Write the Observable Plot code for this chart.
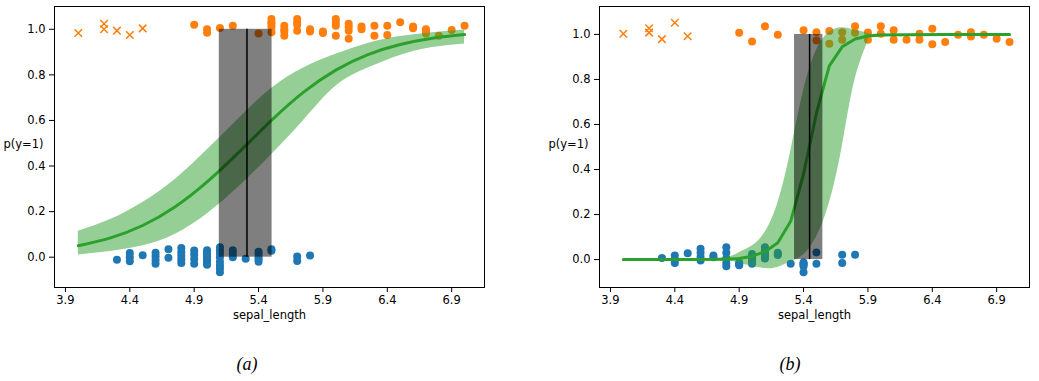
<!DOCTYPE html>
<html><head><meta charset="utf-8">
<script src="https://cdn.jsdelivr.net/npm/d3@7"></script>
<script src="https://cdn.jsdelivr.net/npm/@observablehq/plot@0.6"></script>
<style>
body{margin:0;background:#fff;}
#wrap{position:relative;width:1039px;height:381px;overflow:hidden;}
.panel{position:absolute;top:0;}
.cap{position:absolute;top:354px;font-family:"Liberation Serif",serif;font-style:italic;font-size:18px;transform:translateX(-50%);color:#000;}
</style>
</head><body>
<div id="wrap">
  <div class="panel" id="pa" style="left:0"></div>
  <div class="panel" id="pb" style="left:520px"></div>
  <div class="cap" style="left:247px">(a)</div>
  <div class="cap" style="left:790px">(b)</div>
</div>
<script>
const xTicks = [3.9, 4.4, 4.9, 5.4, 5.9, 6.4, 6.9];
const yTicks = [0, 0.2, 0.4, 0.6, 0.8, 1.0];

// added outliers (class 1, marked with x)
const outlierX  = [4.2, 4.5, 4.0, 4.3, 4.2, 4.4];
const outlierYA = [1.024, 1.004, 0.984, 0.994, 1.0, 0.975];
const outlierYB = [1.027, 0.992, 1.003, 0.979, 1.008, 1.052];

// panel (a) jittered observations
const blueXA = [4.3, 4.4,4.4,4.4, 4.5, 4.6,4.6,4.6,4.6, 4.7,4.7, 4.8,4.8,4.8,4.8,4.8, 4.9,4.9,4.9,4.9,
  5.0,5.0,5.0,5.0,5.0,5.0,5.0,5.0, 5.1,5.1,5.1,5.1,5.1,5.1,5.1,5.1, 5.2,5.2,5.2, 5.3, 5.4,5.4,5.4,5.4,5.4, 5.5,5.5, 5.7,5.7, 5.8];
const blueYA = [-0.011, 0.018,0.0,-0.018, 0.009, 0.019,0.004,-0.012,-0.029, 0.035,-0.003, 0.04,0.022,0.006,-0.01,-0.025, 0.029,0.012,-0.008,-0.029,
  0.03,0.018,0.004,-0.008,-0.015,-0.025,-0.033,0.011, 0.044,0.03,0.016,0.0,-0.02,-0.036,-0.05,-0.066, 0.03,0.016,0.0, -0.007, 0.024,0.014,0.0,-0.01,-0.02, 0.035,0.028, 0.003,-0.017, 0.007];
const orangeXA = [4.9, 5.0,5.0, 5.1, 5.2, 5.4, 5.5,5.5,5.5,5.5,5.5, 5.6,5.6,5.6,5.6, 5.7,5.7,5.7,5.7, 5.8,5.8, 5.9,5.9,
  6.0,6.0,6.0,6.0, 6.1,6.1,6.1,6.1, 6.2,6.2, 6.3,6.3, 6.4,6.4, 6.5, 6.6,6.6, 6.7,6.7,6.7, 6.8, 6.9, 7.0];
const orangeYA = [1.02, 1.0,0.985, 1.006, 1.015, 0.982, 1.045,1.024,0.987,1.01,1.03, 1.016,0.972,1.0,0.99, 1.045,1.02,0.994,1.03, 1.0,0.99, 0.984,0.99,
  1.045,1.016,0.972,1.03, 1.024,0.994,0.958,1.01, 1.012,1.0, 1.016,0.972, 1.016,0.975, 1.031, 1.012,1.005, 1.0,0.982,0.99, 0.972, 0.997, 1.016];

// panel (b) jittered observations
const blueXB = blueXA;
const blueYB = [0.007, 0.018,0.0,-0.015, 0.028, 0.048,0.03,0.012,-0.004, 0.018,0.01, 0.055,0.03,0.005,-0.015,-0.03, -0.014,-0.02,-0.025,-0.018,
  0.025,0.01,-0.005,-0.019,0.015,0.0,-0.01,0.005, 0.055,0.035,0.02,0.005,0.04,0.01,0.025,0.03, 0.025,0.02,0.03, -0.019, -0.02,-0.013,-0.056,-0.03,-0.02, 0.032,-0.019, 0.022,-0.015, 0.021];
const orangeXB = [4.9, 5.0, 5.1, 5.2, 5.4, 5.5,5.5, 5.6,5.6, 5.7,5.7, 5.8,5.8, 5.9,5.9, 6.0,6.0, 6.1,6.1, 6.2, 6.3,6.3, 6.4,6.4, 6.5, 6.6, 6.7,6.7, 6.8, 6.9, 7.0];
const orangeYB = [1.007, 0.969, 1.036, 0.999, 1.018, 1.010,0.973, 1.015,0.959, 1.010,0.976, 1.036,1.007, 1.008,0.976, 1.036,1.003, 1.018,0.976, 0.976, 1.003,0.976, 1.025,0.956, 0.966, 0.999, 1.010,0.991, 0.999, 0.981, 0.966];

// panel (a) mean curve and 94% band
const curveXA = [4.0, 4.25, 4.5, 4.75, 5.0, 5.25, 5.5, 5.75, 6.0, 6.25, 6.5, 6.75, 7.0];
const thetaA  = [0.050, 0.085, 0.139, 0.220, 0.330, 0.462, 0.600, 0.724, 0.821, 0.889, 0.933, 0.961, 0.977];
const loA     = [0.010, 0.025, 0.050, 0.100, 0.190, 0.310, 0.450, 0.600, 0.750, 0.830, 0.885, 0.920, 0.936];
const hiA     = [0.114, 0.165, 0.240, 0.340, 0.470, 0.610, 0.740, 0.830, 0.890, 0.938, 0.968, 0.985, 0.997];
const bdA = 5.31, bdLoA = 5.095, bdHiA = 5.505;

// panel (b) mean curve and band
const curveXB = [4.0, 4.3, 4.5, 4.8, 4.9, 5.0, 5.1, 5.2, 5.3, 5.4, 5.5, 5.6, 5.7, 5.8, 5.9, 6.0, 6.5, 7.0];
const thetaB  = [0.0, 0.0, 0.0, 0.002, 0.005, 0.015, 0.035, 0.075, 0.17, 0.38, 0.65, 0.86, 0.945, 0.98, 0.993, 0.997, 1.0, 1.0];
const bandXB  = [4.0, 4.5, 4.8, 4.9, 5.0, 5.1, 5.2, 5.3, 5.4, 5.5, 5.6, 5.7, 5.8, 5.9, 6.0, 6.5, 7.0];
const loB     = [0, 0, -0.005, -0.015, -0.03, -0.04, -0.035, -0.01, 0.02, 0.1, 0.25, 0.5, 0.8, 0.97, 1.0, 1.0, 1.0];
const hiB     = [0, 0.002, 0.01, 0.03, 0.06, 0.12, 0.25, 0.48, 0.75, 0.93, 1.01, 1.03, 1.02, 1.005, 1.0, 1.0, 1.0];
const bdB = 5.447, bdLoB = 5.33, bdHiB = 5.55;

const C0 = "#1f77b4", C1 = "#ff7f0e", C2 = "#2ca02c";
const zip = (xs, ys) => xs.map((x, i) => ({x, y: ys[i]}));

function panel({width, marginLeft, marginRight, yDomain, blueY, blueX, orangeX, orangeY, outY,
                cx, theta, bx, lo, hi, bd, bdLo, bdHi, curve}) {
  const band = bx.map((x, i) => ({x, lo: lo[i], hi: hi[i]}));
  return Plot.plot({
    width, height: 340, marginLeft, marginRight, marginTop: 6, marginBottom: 53,
    style: {fontFamily: "DejaVu Sans, sans-serif", fontSize: "11.5px", color: "#000", background: "#fff"},
    x: {domain: [3.815, 7.155], ticks: xTicks, tickFormat: d => d.toFixed(1), label: null, tickSize: 5, tickPadding: 3},
    y: {domain: yDomain, ticks: yTicks, tickFormat: d => d.toFixed(1), label: null, tickSize: 5, tickPadding: 4},
    marks: [
      Plot.dot(zip(blueX, blueY), {x: "x", y: "y", r: 4, fill: C0}),
      Plot.dot(zip(orangeX, orangeY), {x: "x", y: "y", r: 4, fill: C1}),
      Plot.dot(zip(outlierX, outY), {x: "x", y: "y", r: 3.5, symbol: "times", stroke: C1, strokeWidth: 1.5}),
      Plot.line(zip(cx, theta), {x: "x", y: "y", stroke: C2, strokeWidth: 3, curve}),
      Plot.areaY(band, {x: "x", y1: "lo", y2: "hi", fill: C2, fillOpacity: 0.5, curve: "natural"}),
      Plot.ruleX([bd], {y1: 0, y2: 1, stroke: "#000", strokeWidth: 1.5}),
      Plot.rect([{x1: bdLo, x2: bdHi}], {x1: "x1", x2: "x2", y1: 0, y2: 1, fill: "#000", fillOpacity: 0.5}),
      Plot.frame({stroke: "#000", strokeWidth: 1}),
      Plot.text(["p(y=1)"], {text: d => d, frameAnchor: "left", dx: -11, dy: -3, textAnchor: "end"}),
      Plot.text(["sepal_length"], {text: d => d, frameAnchor: "bottom", dy: 31})
    ]
  });
}

document.getElementById("pa").append(panel({
  width: 520, marginLeft: 54, marginRight: 36, yDomain: [-0.133, 1.1],
  blueX: blueXA, blueY: blueYA, orangeX: orangeXA, orangeY: orangeYA, outY: outlierYA,
  cx: curveXA, theta: thetaA, bx: curveXA, lo: loA, hi: hiA, bd: bdA, bdLo: bdLoA, bdHi: bdHiA, curve: "natural"
}));
document.getElementById("pb").append(panel({
  width: 519, marginLeft: 79, marginRight: 10, yDomain: [-0.124, 1.124],
  blueX: blueXB, blueY: blueYB, orangeX: orangeXB, orangeY: orangeYB, outY: outlierYB,
  cx: curveXB, theta: thetaB, bx: bandXB, lo: loB, hi: hiB, bd: bdB, bdLo: bdLoB, bdHi: bdHiB, curve: "linear"
}));
</script>
</body></html>
